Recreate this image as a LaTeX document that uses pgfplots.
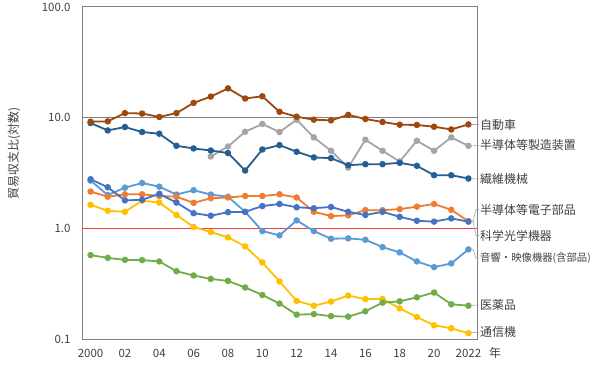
\documentclass[border=0pt]{standalone}
\usepackage{fontspec}
\setmainfont{Noto Sans CJK JP}
\usepackage{pgfplots}
\pgfplotsset{compat=1.18}
\definecolor{cBrown}{HTML}{9E480E}
\definecolor{cDark}{HTML}{255E91}
\definecolor{cGray}{HTML}{A5A5A5}
\definecolor{cLight}{HTML}{5B9BD5}
\definecolor{cBlue}{HTML}{4472C4}
\definecolor{cOrange}{HTML}{ED7D31}
\definecolor{cYellow}{HTML}{FFC000}
\definecolor{cGreen}{HTML}{70AD47}
\definecolor{txt}{HTML}{404040}
\definecolor{cFrame}{HTML}{808080}
\definecolor{cRed}{HTML}{F04040}
\begin{document}
\begin{tikzpicture}[x=1bp,y=1bp]
\useasboundingbox (0,0) rectangle (600,365);
\begin{axis}[
  at={(82bp,26bp)}, anchor=south west,
  width=395bp, height=332bp, scale only axis,
  ymode=log, ymin=0.1, ymax=100,
  xmin=1999.5, xmax=2022.5,
  axis line style={draw=cFrame, line width=1bp},
  ytick={0.1,1,10,100},
  yticklabels={0.1,1.0,10.0,100.0},
  xtick={2000,2002,...,2022},
  xticklabels={2000,02,04,06,08,10,12,14,16,18,20,2022},
  major tick length=0pt, minor tick length=0pt,
  /pgf/number format/assume math mode=true,
  ticklabel style={font=\fontsize{11.5}{13}\selectfont, text=txt},
  yticklabel style={xshift=-8bp},
  xticklabel style={yshift=-7bp},
  clip=false,
  every axis plot/.append style={line width=1.8bp, mark=*, mark size=2.3bp, mark options={solid}},
]
\addplot[forget plot, color=black!50, line width=1.3bp, mark=none] coordinates {(1999.5,10)(2022.5,10)};
\addplot[forget plot, color=cRed, line width=0.8bp, mark=none] coordinates {(1999.5,1)(2022.5,1)};
% light blue
\addplot[color=cLight] coordinates {(2000,2.70)(2001,2.00)(2002,2.33)(2003,2.57)(2004,2.38)(2005,2.02)(2006,2.21)(2007,2.02)(2008,1.93)(2009,1.41)(2010,0.945)(2011,0.864)(2012,1.18)(2013,0.945)(2014,0.805)(2015,0.812)(2016,0.788)(2017,0.677)(2018,0.606)(2019,0.502)(2020,0.446)(2021,0.482)(2022,0.645)};
% orange
\addplot[color=cOrange] coordinates {(2000,2.15)(2001,1.93)(2002,2.03)(2003,2.03)(2004,1.96)(2005,1.93)(2006,1.70)(2007,1.87)(2008,1.90)(2009,1.96)(2010,1.96)(2011,2.03)(2012,1.90)(2013,1.41)(2014,1.29)(2015,1.31)(2016,1.46)(2017,1.46)(2018,1.49)(2019,1.57)(2020,1.66)(2021,1.47)(2022,1.16)};
% gray
\addplot[color=cGray] coordinates {(2007,4.46)(2008,5.49)(2009,7.46)(2010,8.77)(2011,7.42)(2012,9.59)(2013,6.63)(2014,5.02)(2015,3.54)(2016,6.32)(2017,5.02)(2018,4.02)(2019,6.19)(2020,5.02)(2021,6.63)(2022,5.57)};
% yellow
\addplot[color=cYellow] coordinates {(2000,1.63)(2001,1.44)(2002,1.41)(2003,1.78)(2004,1.71)(2005,1.32)(2006,1.03)(2007,0.926)(2008,0.829)(2009,0.687)(2010,0.492)(2011,0.331)(2012,0.221)(2013,0.200)(2014,0.218)(2015,0.247)(2016,0.229)(2017,0.230)(2018,0.189)(2019,0.158)(2020,0.133)(2021,0.125)(2022,0.113)};
% medium blue
\addplot[color=cBlue] coordinates {(2000,2.78)(2001,2.35)(2002,1.79)(2003,1.81)(2004,2.05)(2005,1.71)(2006,1.37)(2007,1.30)(2008,1.40)(2009,1.41)(2010,1.59)(2011,1.66)(2012,1.55)(2013,1.52)(2014,1.56)(2015,1.41)(2016,1.32)(2017,1.41)(2018,1.27)(2019,1.17)(2020,1.15)(2021,1.23)(2022,1.15)};
% green
\addplot[color=cGreen] coordinates {(2000,0.573)(2001,0.541)(2002,0.519)(2003,0.516)(2004,0.502)(2005,0.410)(2006,0.375)(2007,0.349)(2008,0.335)(2009,0.292)(2010,0.250)(2011,0.209)(2012,0.166)(2013,0.168)(2014,0.161)(2015,0.159)(2016,0.178)(2017,0.213)(2018,0.219)(2019,0.238)(2020,0.263)(2021,0.206)(2022,0.200)};
% dark blue
\addplot[color=cDark] coordinates {(2000,8.95)(2001,7.67)(2002,8.23)(2003,7.42)(2004,7.16)(2005,5.57)(2006,5.27)(2007,5.05)(2008,4.79)(2009,3.33)(2010,5.16)(2011,5.65)(2012,4.92)(2013,4.37)(2014,4.31)(2015,3.72)(2016,3.80)(2017,3.80)(2018,3.91)(2019,3.67)(2020,3.02)(2021,3.02)(2022,2.82)};
% brown
\addplot[color=cBrown] coordinates {(2000,9.2)(2001,9.26)(2002,11.0)(2003,10.9)(2004,10.15)(2005,11.0)(2006,13.6)(2007,15.5)(2008,18.4)(2009,14.9)(2010,15.6)(2011,11.3)(2012,10.2)(2013,9.59)(2014,9.45)(2015,10.6)(2016,9.73)(2017,9.14)(2018,8.64)(2019,8.59)(2020,8.28)(2021,7.83)(2022,8.69)};
\end{axis}
% leader lines
\begin{scope}[draw=black!35, line width=0.6bp]
\draw (471,240.3) -- (479,240.3);
\draw (471,219) -- (479,219.5);
\draw (471,186.3) -- (479,186);
\draw (471,143.5) -- (473,143.5) -- (476,155.5) -- (479,155.5);
\draw (473,143.5) -- (476,129.5) -- (479,129.5);
\draw (471,115.7) -- (473,115.7) -- (476,107) -- (479,107);
\draw (471,59.7) -- (479,60);
\draw (471,32.3) -- (479,32.7);
\end{scope}
\begin{scope}[every node/.style={anchor=west, inner sep=0pt, text=txt, font=\fontsize{12}{14}\selectfont}]
\node at (480,240) {自動車};
\node at (480,220) {半導体等製造装置};
\node at (480,186) {繊維機械};
\node at (480,155) {半導体等電子部品};
\node at (480,129) {科学光学機器};
\node[font=\fontsize{10.4}{12}\selectfont] at (480,107) {音響・映像機器(含部品)};
\node at (480,60) {医薬品};
\node at (480,33) {通信機};
\end{scope}
\node[text=txt, font=\fontsize{12}{14}\selectfont, inner sep=0pt] at (495,12) {年};
\node[text=txt, font=\fontsize{12}{14}\selectfont, inner sep=0pt, rotate=90] at (14,211.5) {貿易収支比(対数)};
\end{tikzpicture}
\end{document}
